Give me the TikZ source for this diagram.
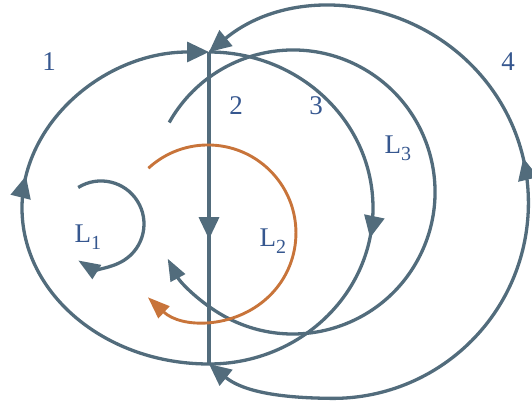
\documentclass[tikz,border=0pt]{standalone}
\usepackage{fontspec}
\setmainfont{Liberation Serif}
\usetikzlibrary{arrows.meta,decorations.markings}
\definecolor{wire}{HTML}{526C7C}
\definecolor{loopc}{HTML}{C8743A}
\definecolor{labc}{HTML}{36578F}
\newcommand{\lsub}[1]{\raisebox{-0.25em}{\fontsize{20}{22}\selectfont #1}}

\begin{document}
\begin{tikzpicture}[x=1pt,y=1pt,line width=3.3pt,
  wire/.style={draw=wire},
  tip/.style={-{Triangle[length=22pt,width=20pt]}},
  ltip/.style={-{Triangle[length=22pt,width=16pt]}},
  bothtip/.style={{Triangle[length=22pt,width=20pt]}-{Triangle[length=22pt,width=20pt]}},
  midtip/.style={postaction={decorate},decoration={markings,
    mark=at position #1 with {\arrow{Triangle[length=22pt,width=20pt]}}}},
  revtip/.style={postaction={decorate},decoration={markings,
    mark=at position #1 with {\arrowreversed{Triangle[length=22pt,width=20pt]}}}},
  every node/.style={font=\fontsize{27}{30}\selectfont,text=labc,inner sep=0pt}]
 \path[use as bounding box] (0,0) rectangle (532,401);
 \coordinate (T) at (209,349);
 \coordinate (B) at (209,37);
 % branches
 \draw[wire,tip,midtip=0.56] (B) arc[start angle=270,end angle=90,x radius=187,y radius=156];
 \draw[wire,midtip=0.6] (T) -- (B);
 \draw[wire,midtip=0.56] (T) arc[start angle=90,end angle=-90,x radius=164,y radius=156];
 \draw[wire,bothtip,revtip=0.45] (T) arc[start angle=129.4,end angle=-90,radius=195.4]
   .. controls (270,3) and (240,12) .. (B);
 % loops
 \draw[wire,ltip] (78.2,213.5) arc[start angle=122,end angle=-122,radius=43];
 \draw[wire,ltip] (169.2,278.5) arc[start angle=150.7,end angle=-152,radius=142];
 \draw[draw=loopc,line width=2.9pt,ltip] (148.4,232.8) arc[start angle=132.6,end angle=-133,radius=88];
 % labels
 \node (n1) at (49,339) {1};
 \node (n2) at (236,295) {2};
 \node (n3) at (316,295) {3};
 \node (n4) at (508,339) {4};
 \node[anchor=base west] (l1) at (73,158) {L\lsub{1}};
 \node[anchor=base west] (l2) at (258,154) {L\lsub{2}};
 \node[anchor=base west] (l3) at (383,247) {L\lsub{3}};
\end{tikzpicture}
\end{document}
